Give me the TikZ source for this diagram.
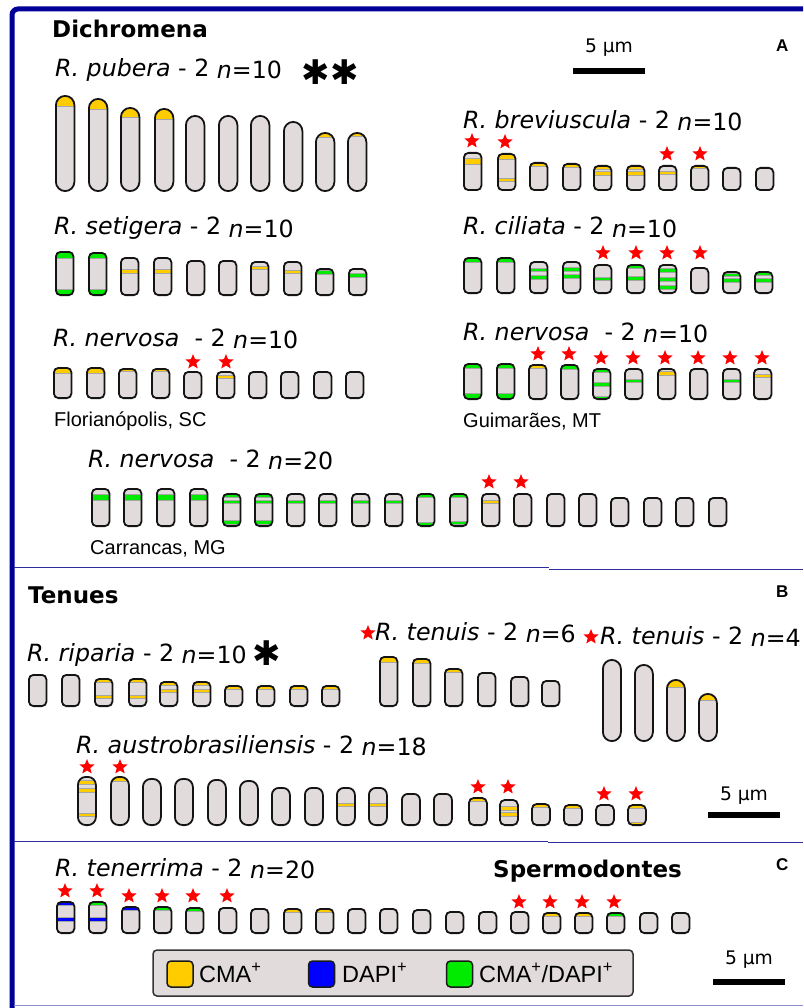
\documentclass[tikz,border=0pt]{standalone}
\usepackage{fontspec}
\setmainfont{DejaVu Sans}[ItalicFont={DejaVu Sans Oblique},BoldFont={DejaVu Sans Bold}]
\newfontfamily\lib{Liberation Sans}
\usetikzlibrary{shapes.geometric}
\definecolor{navy}{RGB}{0,0,153}
\definecolor{divblue}{RGB}{45,45,160}
\definecolor{divlight}{RGB}{140,140,210}
\definecolor{chromfill}{RGB}{225,219,220}
\definecolor{cma}{RGB}{255,204,0}
\definecolor{dapi}{RGB}{0,0,255}
\definecolor{both}{RGB}{0,235,0}

% chromosome: [corner radius] {left} {top} {bottom} {band commands}
\def\cw{17.5}
\newcommand\chrom[5][4.5]{%
  \def\cx{#2+0.9}\def\ctop{#3+0.9}\def\cbot{#4-0.9}%
  \begin{scope}
    \clip[rounded corners=#1] (\cx,\ctop) rectangle (\cx+\cw,\cbot);
    \fill[chromfill] (\cx-1,\ctop-1) rectangle (\cx+\cw+1,\cbot+1);
    #5
  \end{scope}
  \draw[chromline,rounded corners=#1] (\cx,\ctop) rectangle (\cx+\cw,\cbot);
}
% interstitial band {from} {to} {colour}
\newcommand\band[3]{\fill[#3] (\cx-1,#1) rectangle (\cx+\cw+1,#2);
  \draw[bandedge] (\cx-1,#1-0.25) -- (\cx+\cw+1,#1-0.25) (\cx-1,#2+0.25) -- (\cx+\cw+1,#2+0.25);}
% terminal band at the top / bottom end
\newcommand\captop[2]{\fill[#2] (\cx-1,\ctop-2) rectangle (\cx+\cw+1,#1);
  \draw[bandedge] (\cx-1,#1+0.25) -- (\cx+\cw+1,#1+0.25);}
\newcommand\capbot[2]{\fill[#2] (\cx-1,#1) rectangle (\cx+\cw+1,\cbot+2);
  \draw[bandedge] (\cx-1,#1-0.25) -- (\cx+\cw+1,#1-0.25);}
% red star marker
\newcounter{starno}
\newcommand\st[2]{\stepcounter{starno}\node[redstar] (star\arabic{starno}) at (#1,#2) {};}
% species heading
\newcommand\spn[2]{\textit{R. #1} - 2 \raisebox{-2pt}{\textit{n}=#2}}

\tikzset{
  chromline/.style={draw=black!92,line width=1.8pt},
  bandedge/.style={draw=black!35,line width=0.5pt},
  redstar/.style={star,star points=5,star point ratio=2.3,fill=red,draw=none,
    minimum size=16pt,inner sep=0pt},
  title/.style={anchor=base west,inner sep=0pt,font=\fontsize{23.7}{27}\selectfont},
  hdr/.style={anchor=base west,inner sep=0pt,font=\bfseries\fontsize{23}{26}\selectfont},
  panel/.style={anchor=base west,inner sep=0pt,font=\lib\bfseries\fontsize{17}{19}\selectfont},
  place/.style={anchor=base west,inner sep=0pt,font=\lib\fontsize{20}{23}\selectfont},
  sbtext/.style={anchor=base,inner sep=0pt,font=\fontsize{18.7}{21}\selectfont},
  sbbar/.style={line width=6pt,black},
  ast/.style={inner sep=0pt,font=\fontsize{34}{36}\selectfont},
  legtext/.style={anchor=base west,inner sep=0pt,font=\lib\fontsize{23.5}{26}\selectfont},
  legkey/.style={draw=black!90,line width=1.5pt,rounded corners=4pt},
}

\begin{document}
\begin{tikzpicture}[x=1pt,y=-1pt]
\useasboundingbox (0,0) rectangle (803,1008);
\fill[white] (0,0) rectangle (803,1008);

% frame and panel dividers
\draw[navy,line width=5pt,rounded corners=6pt] (803,9) -- (12,9) -- (12,1010);
\draw[divblue,line width=1.5pt] (14,567.5) -- (549,567.5);
\draw[divblue,line width=1.5pt] (549,569.5) -- (803,569.5);
\draw[divblue,line width=1.5pt] (14,841.5) -- (548,841.5);
\draw[divblue,line width=1.5pt] (548,842.5) -- (803,842.5);
\draw[divlight,line width=1.5pt] (14,1005.5) -- (803,1005.5);

% ===================== A: Dichromena =====================
\node[hdr] (dich) at (52,38) {Dichromena};
\node[panel] (labA) at (776,52) {A};
\node[sbtext] (sbA) at (609,53) {5 μm};
\coordinate (sbA1) at (573,71); \coordinate (sbA2) at (645,71);
\draw[sbbar] (sbA1) -- (sbA2);

% R. pubera
\node[title] (tpub) at (55,77) {\spn{pubera}{10}};
\node[ast] (astA) at (330,72) {✱✱};
\def\cw{18.5}
\chrom[9.25]{55}{95}{192}{\captop{106}{cma}}
\chrom[9.25]{88}{98}{192}{\captop{109}{cma}}
\chrom[9.25]{120}{107}{192}{\captop{117}{cma}}
\chrom[9.25]{154}{108}{192}{\captop{119}{cma}}
\chrom[9.25]{185}{115}{192}{}
\chrom[9.25]{218}{115}{192}{}
\chrom[9.25]{250}{115}{192}{}
\chrom[9.25]{283}{121}{192}{}
\chrom[9.25]{315}{132}{192}{\captop{137}{cma}}
\chrom[9.25]{347}{132}{192}{\captop{136.5}{cma}}
\def\cw{17.5}

% R. breviuscula
\node[title] (tbre) at (463,129) {\spn{breviuscula}{10}};
\chrom{463}{152}{191}{\band{159}{164}{cma}}
\chrom{497}{153}{191}{\captop{159}{cma}\band{178.5}{181.5}{cma}}
\chrom{529}{162}{191}{\captop{166.5}{cma}}
\chrom{562}{163}{191}{\captop{167.5}{cma}}
\chrom{593}{165}{191}{\captop{169}{cma}\band{172}{175}{cma}}
\chrom{626}{165}{191}{\captop{169}{cma}\band{172}{175}{cma}}
\chrom{658}{165}{191}{\band{171.5}{174.5}{cma}}
\chrom{690}{165}{191}{\captop{168.5}{cma}}
\chrom{722}{167}{191}{}
\chrom{755}{167}{191}{}
\st{472}{141}\st{505}{142}\st{667}{154}\st{700}{154}

% R. setigera
\node[title] (tset) at (54,235) {\spn{setigera}{10}};
\chrom{55}{251}{296}{\captop{258}{both}\capbot{289}{both}}
\chrom{88}{252}{296}{\captop{258}{both}\capbot{289}{both}}
\chrom{120}{257}{296}{\band{269}{273}{cma}}
\chrom{153}{257}{296}{\band{269}{273}{cma}}
\chrom{186}{260}{296}{}
\chrom{218}{260}{296}{}
\chrom{250}{261}{296}{\band{266}{269}{cma}}
\chrom{283}{261}{296}{\band{270}{273}{cma}}
\chrom{315}{268}{296}{\band{270}{273.5}{both}}
\chrom{348}{268}{296}{\band{273}{276.5}{both}}

% R. ciliata
\node[title] (tcil) at (463,235) {\spn{ciliata}{10}};
\chrom{463}{257}{294}{\captop{262}{both}}
\chrom{496}{257}{294}{\captop{262}{both}}
\chrom{529}{261}{294}{\band{268}{271}{both}\band{275.5}{278.5}{both}}
\chrom{562}{261}{294}{\band{267.5}{270.5}{both}\band{274.5}{277.5}{both}}
\chrom{593}{264}{294}{\band{277}{280}{both}}
\chrom{626}{264}{294}{\captop{268}{both}\band{276.5}{279.5}{both}}
\chrom{658}{264}{294}{\band{268.5}{271.5}{both}\band{277.5}{280.5}{both}\band{285.5}{288.5}{both}}
\chrom{690}{267}{294}{}
\chrom{722}{271}{294}{\band{273}{276}{both}\band{278.5}{281.5}{both}}
\chrom{754}{271}{294}{\band{272}{275}{both}\band{278.5}{281.5}{both}}
\st{603}{253}\st{636}{253}\st{667}{253}\st{700}{253}

% R. nervosa, Florianopolis
\node[title] (tnerF) at (53,346) {\spn{nervosa\ }{10}};
\chrom{53}{367}{399}{\captop{372.5}{cma}}
\chrom{86}{367}{399}{\captop{372.5}{cma}}
\chrom{118}{368}{399}{\captop{371}{cma}}
\chrom{151}{368}{399}{\captop{371}{cma}}
\chrom{183}{371}{399}{}
\chrom{216}{371}{399}{\band{375}{378}{cma}}
\chrom{248}{371}{399}{}
\chrom{280}{371}{399}{}
\chrom{313}{371}{399}{}
\chrom{345}{371}{399}{}
\st{193}{362}\st{226}{362}
\node[place] (locF) at (54,426) {Florianópolis, SC};

% R. nervosa, Guimaraes
\node[title] (tnerG) at (463,340) {\spn{nervosa\ }{10}};
\chrom{463}{363}{400}{\captop{368}{both}\capbot{393}{both}}
\chrom{496}{363}{400}{\captop{368}{both}\capbot{393}{both}}
\chrom{528}{364}{400}{\captop{367.5}{cma}}
\chrom{560}{364}{400}{\captop{369}{both}}
\chrom{592}{368}{400}{\captop{371.5}{both}\band{382.5}{385.5}{both}\capbot{396}{both}}
\chrom{624}{368}{400}{\band{379}{382}{both}}
\chrom{657}{368}{400}{\band{371}{375}{cma}}
\chrom{689}{368}{400}{}
\chrom{722}{368}{400}{\band{379}{382}{both}}
\chrom{753}{368}{400}{\band{374}{377}{cma}}
\st{538}{354}\st{569}{354}\st{601}{358}\st{633}{358}\st{665}{358}
\st{698}{358}\st{730}{358}\st{762}{358}
\node[place] (locG) at (463,427) {Guimarães, MT};

% R. nervosa 2n=20, Carrancas
\node[title] (tnerC) at (88,467) {\spn{nervosa\ }{20}};
\chrom{91}{488}{527}{\band{494}{500}{both}}
\chrom{123}{488}{527}{\band{494}{500}{both}}
\chrom{156}{488}{527}{\band{494}{500}{both}}
\chrom{189}{488}{527}{\band{494}{500}{both}}
\chrom{222}{493}{527}{\captop{497}{both}\band{500}{503}{both}\band{520.5}{523.5}{both}}
\chrom{254}{493}{527}{\captop{497}{both}\band{500}{503}{both}\band{520.5}{523.5}{both}}
\chrom{286}{493}{527}{\band{500}{503}{both}}
\chrom{318}{493}{527}{\band{500}{503}{both}}
\chrom{351}{493}{527}{\band{500}{503}{both}}
\chrom{384}{493}{527}{\band{500}{503}{both}}
\chrom{416}{493}{527}{\captop{496.5}{both}\band{522}{525}{both}}
\chrom{449}{493}{527}{\captop{496.5}{both}\band{521}{524}{both}}
\chrom{481}{493}{527}{\band{500}{503}{cma}}
\chrom{513}{493}{527}{}
\chrom{546}{493}{527}{}
\chrom{578}{493}{527}{}
\chrom{610}{497}{527}{}
\chrom{643}{497}{527}{}
\chrom{675}{497}{527}{}
\chrom{708}{497}{527}{}
\st{489}{482}\st{521}{482}
\node[place] (locC) at (90,554) {Carrancas, MG};

% ===================== B: Tenues =====================
\node[hdr] (ten) at (28,603) {Tenues};
\node[panel] (labB) at (776,597) {B};

% R. riparia
\node[title] (trip) at (27,661) {\spn{riparia}{10}};
\node[ast] (astB) at (267,653) {✱};
\chrom{28}{674}{707}{}
\chrom{61}{674}{707}{}
\chrom{94}{678}{707}{\captop{682}{cma}\band{695}{698}{cma}}
\chrom{128}{678}{707}{\captop{682}{cma}\band{695}{698}{cma}}
\chrom{159}{681}{707}{\captop{685}{cma}\band{689}{692}{cma}}
\chrom{192}{681}{707}{\captop{685}{cma}\band{689}{692}{cma}}
\chrom{224}{685}{707}{\captop{688.5}{cma}}
\chrom{256}{685}{707}{\captop{688.5}{cma}}
\chrom{289}{685}{707}{\captop{688.5}{cma}}
\chrom{321}{685}{707}{\captop{688.5}{cma}}

% R. tenuis 2n=6
\st{368}{633}
\node[title] (tten6) at (375,640) {\spn{tenuis}{6}};
\chrom{379}{656}{707}{\captop{662}{cma}}
\chrom{412}{658}{707}{\captop{663}{cma}}
\chrom{444}{668}{707}{\captop{672}{cma}}
\chrom{477}{672}{707}{}
\chrom{510}{676}{707}{}
\chrom{541}{680}{707}{}

% R. tenuis 2n=4
\st{591}{637}
\node[title] (tten4) at (600,644) {\spn{tenuis}{4}};
\def\cw{18}
\chrom[9]{602}{659}{742}{}
\chrom[9]{634}{664}{742}{}
\chrom[9]{666}{679}{742}{\captop{687}{cma}}
\chrom[9]{698}{693}{742}{\captop{700}{cma}}

% R. austrobrasiliensis
\node[title] (taus) at (76,753) {\spn{austrobrasiliensis}{18}};
\chrom[8]{77}{776}{826}{\band{780}{784}{cma}\band{788}{792}{cma}\band{813}{816}{cma}}
\chrom[8]{110}{776}{826}{\captop{781}{cma}}
\chrom[8]{142}{778}{826}{}
\chrom[8]{174}{778}{826}{}
\chrom[8]{207}{779}{826}{}
\chrom[8]{239}{780}{826}{}
\chrom[7]{271}{787}{826}{}
\chrom[7]{304}{787}{826}{}
\chrom[7]{336}{787}{826}{\band{803}{806}{cma}}
\chrom[7]{368}{787}{826}{\band{803}{806}{cma}}
\chrom[6]{401}{793}{826}{}
\chrom[6]{433}{793}{826}{}
\chrom[5]{468}{797}{826}{\captop{801}{cma}}
\chrom[5]{499}{799}{826}{\band{806.5}{809.5}{cma}\band{812.5}{815.5}{cma}}
\chrom[5]{531}{803}{826}{\captop{807}{cma}}
\chrom[5]{563}{804}{826}{\captop{807.5}{cma}}
\chrom[5]{595}{804}{826}{}
\chrom[5]{627}{804}{826}{\captop{808}{cma}\capbot{822}{cma}}
\def\cw{17.5}
\st{87}{767}\st{120}{767}\st{478}{787}\st{508}{787}\st{604}{794}\st{636}{794}

\node[sbtext] (sbB) at (744,800) {5 μm};
\coordinate (sbB1) at (708,815); \coordinate (sbB2) at (780,815);
\draw[sbbar] (sbB1) -- (sbB2);

% ===================== C: Spermodontes =====================
\node[hdr] (spe) at (493,877) {Spermodontes};
\node[panel] (labC) at (776,870) {C};

% R. tenerrima
\node[title] (tter) at (55,876) {\spn{tenerrima}{20}};
\chrom{56}{901}{934}{\captop{905}{dapi}\band{917.5}{920.5}{dapi}}
\chrom{88}{901}{934}{\captop{904.5}{both}\band{917.5}{920.5}{dapi}}
\chrom{121}{906}{934}{\captop{909.5}{dapi}}
\chrom{153}{906}{934}{\captop{909.5}{both}}
\chrom{185}{907}{934}{\captop{910.5}{both}}
\chrom{218}{907}{934}{}
\chrom{250}{908}{934}{}
\chrom{283}{908}{934}{\captop{911.5}{cma}}
\chrom{315}{908}{934}{\captop{911.5}{cma}}
\chrom{347}{908}{934}{}
\chrom{379}{908}{934}{}
\chrom{412}{909}{934}{}
\chrom{445}{911}{934}{}
\chrom{478}{911}{934}{}
\chrom{510}{911}{934}{}
\chrom{542}{912}{934}{\captop{915.5}{cma}}
\chrom{574}{912}{934}{\captop{915.5}{cma}}
\chrom{606}{912}{934}{\captop{915.5}{both}}
\chrom{639}{912}{934}{}
\chrom{671}{912}{934}{}
\st{65}{891}\st{97}{891}\st{129}{896}\st{162}{896}\st{193}{896}\st{227}{896}
\st{519}{902}\st{550}{902}\st{582}{902}\st{614}{902}

% legend
\node[draw=black!80,line width=1.5pt,rounded corners=4pt,fill=chromfill,
  minimum width=480pt,minimum height=46pt,inner sep=0pt] (legend) at (393,973) {};
\node[legkey,fill=cma,minimum size=26pt,inner sep=0pt] (kcma) at (180,974) {};
\node[legtext] (tcma) at (199,982) {CMA\textsuperscript{+}};
\node[legkey,fill=dapi,minimum size=26pt,inner sep=0pt] (kdapi) at (321.5,974) {};
\node[legtext] (tdapi) at (342,982) {DAPI\textsuperscript{+}};
\node[legkey,fill=both,minimum size=26pt,inner sep=0pt] (kboth) at (459.5,974) {};
\node[legtext] (tboth) at (479,982) {CMA\textsuperscript{+}/DAPI\textsuperscript{+}};

\node[sbtext] (sbC) at (749,964) {5 μm};
\coordinate (sbC1) at (713,982); \coordinate (sbC2) at (785,982);
\draw[sbbar] (sbC1) -- (sbC2);
\end{tikzpicture}
\end{document}
